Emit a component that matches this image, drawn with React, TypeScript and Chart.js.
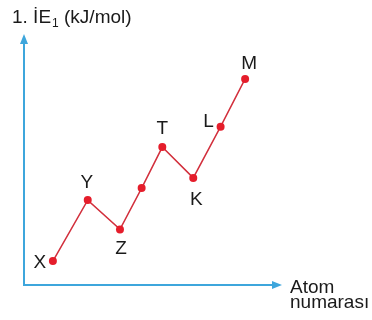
import React, { useEffect, useRef } from "react";
import { Chart, registerables } from "chart.js";

Chart.register(...registerables);

// Data (arbitrary units: atom number position vs. 1st ionisation energy)
const pointNames = ["X", "Y", "Z", "", "T", "K", "L", "M"];
const atomPos = [1.12, 2.47, 3.72, 4.56, 5.36, 6.56, 7.62, 8.57];
const ie1Values = [0.94, 3.33, 2.18, 3.8, 5.41, 4.2, 6.21, 8.08];

const axisMin = 0;
const axisMax = 10;

const titleMain = "1. İE";
const titleSub = "1";
const titleRest = " (kJ/mol)";
const xTitleLines = ["Atom", "numarası"];

const FONT = "'Liberation Sans', Arial, sans-serif";
const AXIS_COLOR = "#3ea6dc";
const LINE_COLOR = "#d22f3c";
const POINT_COLOR = "#e51d2b";

const labelOffsets: Record<string, [number, number]> = {
  X: [-13, 2],
  Y: [-1, -17],
  Z: [1, 19],
  T: [0, -18],
  K: [3, 22],
  L: [-12, -5],
  M: [4, -15],
};

const decorPlugin = {
  id: "decor",
  beforeDatasetsDraw(chart: any) {
    const { ctx, chartArea } = chart;
    const { left, right, top, bottom } = chartArea;
    const tipY = top + 4;
    ctx.save();
    ctx.strokeStyle = AXIS_COLOR;
    ctx.fillStyle = AXIS_COLOR;
    ctx.lineWidth = 2;
    // y axis
    ctx.beginPath();
    ctx.moveTo(left, bottom + 1);
    ctx.lineTo(left, tipY + 6);
    ctx.stroke();
    ctx.beginPath();
    ctx.moveTo(left, tipY);
    ctx.lineTo(left - 4, tipY + 10);
    ctx.lineTo(left + 4, tipY + 10);
    ctx.closePath();
    ctx.fill();
    // x axis
    ctx.beginPath();
    ctx.moveTo(left - 1, bottom);
    ctx.lineTo(right - 6, bottom);
    ctx.stroke();
    ctx.beginPath();
    ctx.moveTo(right, bottom);
    ctx.lineTo(right - 10, bottom - 4);
    ctx.lineTo(right - 10, bottom + 4);
    ctx.closePath();
    ctx.fill();
    ctx.restore();
  },
  afterDatasetsDraw(chart: any) {
    const { ctx, chartArea } = chart;
    const meta = chart.getDatasetMeta(0);
    ctx.save();
    ctx.fillStyle = "#1a1a1a";
    ctx.font = `19px ${FONT}`;
    ctx.textAlign = "center";
    ctx.textBaseline = "middle";
    meta.data.forEach((el: any, i: number) => {
      const name = pointNames[i];
      if (!name) return;
      const off = labelOffsets[name] || [0, -16];
      ctx.fillText(name, el.x + off[0], el.y + off[1]);
    });
    // y title
    ctx.textAlign = "left";
    ctx.textBaseline = "alphabetic";
    ctx.font = `19px ${FONT}`;
    let x = 12;
    const y = 23;
    ctx.fillText(titleMain, x, y);
    x += ctx.measureText(titleMain).width;
    ctx.font = `12px ${FONT}`;
    ctx.fillText(titleSub, x + 1, y + 4);
    x += ctx.measureText(titleSub).width + 1;
    ctx.font = `19px ${FONT}`;
    ctx.fillText(titleRest, x, y);
    // x title
    const tx = chartArea.right + 8;
    ctx.fillText(xTitleLines[0], tx, chartArea.bottom + 8);
    ctx.fillText(xTitleLines[1], tx, chartArea.bottom + 23);
    ctx.restore();
  },
};

export default function App() {
  const canvasRef = useRef<HTMLCanvasElement | null>(null);

  useEffect(() => {
    if (!canvasRef.current) return;
    const chart = new Chart(canvasRef.current, {
      type: "line",
      data: {
        datasets: [
          {
            data: atomPos.map((x, i) => ({ x, y: ie1Values[i] })),
            borderColor: LINE_COLOR,
            borderWidth: 1.5,
            pointRadius: 4,
            pointBackgroundColor: POINT_COLOR,
            pointBorderWidth: 0,
            tension: 0,
          },
        ],
      },
      options: {
        animation: false,
        responsive: false,
        maintainAspectRatio: false,
        layout: { padding: { left: 24, right: 90, top: 30, bottom: 35 } },
        plugins: { legend: { display: false }, tooltip: { enabled: false } },
        scales: {
          x: { type: "linear", min: axisMin, max: axisMax, display: false },
          y: { type: "linear", min: axisMin, max: axisMax, display: false },
        },
      },
      plugins: [decorPlugin],
    });
    return () => chart.destroy();
  }, []);

  return (
    <div style={{ position: "absolute", left: 0, top: 0, width: 372, height: 320, background: "#fff" }}>
      <canvas ref={canvasRef} width={372} height={320} style={{ width: 372, height: 320 }} />
    </div>
  );
}
